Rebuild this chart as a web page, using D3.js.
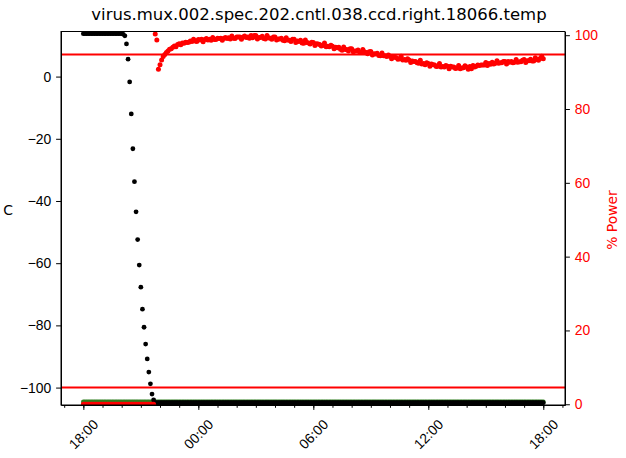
<!DOCTYPE html>
<html>
<head>
<meta charset="utf-8">
<script src="https://cdn.jsdelivr.net/npm/d3@7"></script>
<style>
  body { margin: 0; background: #fff; }
  svg { font-family: "DejaVu Sans", sans-serif; }
</style>
</head>
<body>
<script>
// Chart data: minutes after the 18:00 start, and readings
var chartTitle = "virus.mux.002.spec.202.cntl.038.ccd.right.18066.temp";

// sample times, minutes after 18:00 (5 minute logging)
var earlyMinutes = [0, 5, 10, 15, 20, 25, 30, 35, 40, 45, 50, 55,
  60, 65, 70, 75, 80, 85, 90, 95, 100, 105, 110, 115,
  120, 125, 130, 135, 140, 145, 150, 155, 160, 165, 170, 175,
  180, 185, 190, 195, 200, 205, 210, 215, 220];
var lateMinutes = [225, 230, 235, 240, 245, 250, 255, 260, 265, 270, 275, 280,
  285, 290, 295, 300, 305, 310, 315, 320, 325, 330, 335, 340,
  345, 350, 355, 360, 365, 370, 375, 380, 385, 390, 395, 400,
  405, 410, 415, 420, 425, 430, 435, 440, 445, 450, 455, 460,
  465, 470, 475, 480, 485, 490, 495, 500, 505, 510, 515, 520,
  525, 530, 535, 540, 545, 550, 555, 560, 565, 570, 575, 580,
  585, 590, 595, 600, 605, 610, 615, 620, 625, 630, 635, 640,
  645, 650, 655, 660, 665, 670, 675, 680, 685, 690, 695, 700,
  705, 710, 715, 720, 725, 730, 735, 740, 745, 750, 755, 760,
  765, 770, 775, 780, 785, 790, 795, 800, 805, 810, 815, 820,
  825, 830, 835, 840, 845, 850, 855, 860, 865, 870, 875, 880,
  885, 890, 895, 900, 905, 910, 915, 920, 925, 930, 935, 940,
  945, 950, 955, 960, 965, 970, 975, 980, 985, 990, 995, 1000,
  1005, 1010, 1015, 1020, 1025, 1030, 1035, 1040, 1045, 1050, 1055, 1060,
  1065, 1070, 1075, 1080, 1085, 1090, 1095, 1100, 1105, 1110, 1115, 1120,
  1125, 1130, 1135, 1140, 1145, 1150, 1155, 1160, 1165, 1170, 1175, 1180,
  1185, 1190, 1195, 1200, 1205, 1210, 1215, 1220, 1225, 1230, 1235, 1240,
  1245, 1250, 1255, 1260, 1265, 1270, 1275, 1280, 1285, 1290, 1295, 1300,
  1305, 1310, 1315, 1320, 1325, 1330, 1335, 1340, 1345, 1350, 1355, 1360,
  1365, 1370, 1375, 1380, 1385, 1390, 1395, 1400, 1405, 1410, 1415, 1420,
  1425, 1430, 1435, 1440];

// CCD temperature (C)
var tempEarly = [13.8, 13.8, 13.8, 13.8, 13.8, 13.8, 13.8, 13.8, 13.8, 13.8, 13.8, 13.8,
  13.8, 13.8, 13.8, 13.8, 13.8, 13.8, 13.8, 13.8, 13.8, 13.8, 13.8, 13.8,
  13.8, 13.6, 13.1, 10.5, 5.6, -1.7, -12.0, -23.2, -33.8, -43.5, -52.4, -60.6,
  -67.7, -74.8, -80.6, -86.0, -90.8, -95.0, -98.8, -102.1, -104.0];
var tempLate = [-104.85, -104.85, -104.85, -104.85, -104.85, -104.85, -104.85, -104.85, -104.85, -104.85, -104.85, -104.85,
  -104.85, -104.85, -104.85, -104.85, -104.85, -104.85, -104.85, -104.85, -104.85, -104.85, -104.85, -104.85,
  -104.85, -104.85, -104.85, -104.85, -104.85, -104.85, -104.85, -104.85, -104.85, -104.85, -104.85, -104.85,
  -104.85, -104.85, -104.85, -104.85, -104.85, -104.85, -104.85, -104.85, -104.85, -104.85, -104.85, -104.85,
  -104.85, -104.85, -104.85, -104.85, -104.85, -104.85, -104.85, -104.85, -104.85, -104.85, -104.85, -104.85,
  -104.85, -104.85, -104.85, -104.85, -104.85, -104.85, -104.85, -104.85, -104.85, -104.85, -104.85, -104.85,
  -104.85, -104.85, -104.85, -104.85, -104.85, -104.85, -104.85, -104.85, -104.85, -104.85, -104.85, -104.85,
  -104.85, -104.85, -104.85, -104.85, -104.85, -104.85, -104.85, -104.85, -104.85, -104.85, -104.85, -104.85,
  -104.85, -104.85, -104.85, -104.85, -104.85, -104.85, -104.85, -104.85, -104.85, -104.85, -104.85, -104.85,
  -104.85, -104.85, -104.85, -104.85, -104.85, -104.85, -104.85, -104.85, -104.85, -104.85, -104.85, -104.85,
  -104.85, -104.85, -104.85, -104.85, -104.85, -104.85, -104.85, -104.85, -104.85, -104.85, -104.85, -104.85,
  -104.85, -104.85, -104.85, -104.85, -104.85, -104.85, -104.85, -104.85, -104.85, -104.85, -104.85, -104.85,
  -104.85, -104.85, -104.85, -104.85, -104.85, -104.85, -104.85, -104.85, -104.85, -104.85, -104.85, -104.85,
  -104.85, -104.85, -104.85, -104.85, -104.85, -104.85, -104.85, -104.85, -104.85, -104.85, -104.85, -104.85,
  -104.85, -104.85, -104.85, -104.85, -104.85, -104.85, -104.85, -104.85, -104.85, -104.85, -104.85, -104.85,
  -104.85, -104.85, -104.85, -104.85, -104.85, -104.85, -104.85, -104.85, -104.85, -104.85, -104.85, -104.85,
  -104.85, -104.85, -104.85, -104.85, -104.85, -104.85, -104.85, -104.85, -104.85, -104.85, -104.85, -104.85,
  -104.85, -104.85, -104.85, -104.85, -104.85, -104.85, -104.85, -104.85, -104.85, -104.85, -104.85, -104.85,
  -104.85, -104.85, -104.85, -104.85, -104.85, -104.85, -104.85, -104.85, -104.85, -104.85, -104.85, -104.85,
  -104.85, -104.85, -104.85, -104.85, -104.85, -104.85, -104.85, -104.85, -104.85, -104.85, -104.85, -104.85,
  -104.85, -104.85, -104.85, -104.85];

// set point (C), green
var setEarly = [-104.6, -104.6, -104.6, -104.6, -104.6, -104.6, -104.6, -104.6, -104.6, -104.6, -104.6, -104.6,
  -104.6, -104.6, -104.6, -104.6, -104.6, -104.6, -104.6, -104.6, -104.6, -104.6, -104.6, -104.6,
  -104.6, -104.6, -104.6, -104.6, -104.6, -104.6, -104.6, -104.6, -104.6, -104.6, -104.6, -104.6,
  -104.6, -104.6, -104.6, -104.6, -104.6, -104.6, -104.6, -104.6, -104.6];
var setLate = [-104.6, -104.6, -104.6, -104.6, -104.6, -104.6, -104.6, -104.6, -104.6, -104.6, -104.6, -104.6,
  -104.6, -104.6, -104.6, -104.6, -104.6, -104.6, -104.6, -104.6, -104.6, -104.6, -104.6, -104.6,
  -104.6, -104.6, -104.6, -104.6, -104.6, -104.6, -104.6, -104.6, -104.6, -104.6, -104.6, -104.6,
  -104.6, -104.6, -104.6, -104.6, -104.6, -104.6, -104.6, -104.6, -104.6, -104.6, -104.6, -104.6,
  -104.6, -104.6, -104.6, -104.6, -104.6, -104.6, -104.6, -104.6, -104.6, -104.6, -104.6, -104.6,
  -104.6, -104.6, -104.6, -104.6, -104.6, -104.6, -104.6, -104.6, -104.6, -104.6, -104.6, -104.6,
  -104.6, -104.6, -104.6, -104.6, -104.6, -104.6, -104.6, -104.6, -104.6, -104.6, -104.6, -104.6,
  -104.6, -104.6, -104.6, -104.6, -104.6, -104.6, -104.6, -104.6, -104.6, -104.6, -104.6, -104.6,
  -104.6, -104.6, -104.6, -104.6, -104.6, -104.6, -104.6, -104.6, -104.6, -104.6, -104.6, -104.6,
  -104.6, -104.6, -104.6, -104.6, -104.6, -104.6, -104.6, -104.6, -104.6, -104.6, -104.6, -104.6,
  -104.6, -104.6, -104.6, -104.6, -104.6, -104.6, -104.6, -104.6, -104.6, -104.6, -104.6, -104.6,
  -104.6, -104.6, -104.6, -104.6, -104.6, -104.6, -104.6, -104.6, -104.6, -104.6, -104.6, -104.6,
  -104.6, -104.6, -104.6, -104.6, -104.6, -104.6, -104.6, -104.6, -104.6, -104.6, -104.6, -104.6,
  -104.6, -104.6, -104.6, -104.6, -104.6, -104.6, -104.6, -104.6, -104.6, -104.6, -104.6, -104.6,
  -104.6, -104.6, -104.6, -104.6, -104.6, -104.6, -104.6, -104.6, -104.6, -104.6, -104.6, -104.6,
  -104.6, -104.6, -104.6, -104.6, -104.6, -104.6, -104.6, -104.6, -104.6, -104.6, -104.6, -104.6,
  -104.6, -104.6, -104.6, -104.6, -104.6, -104.6, -104.6, -104.6, -104.6, -104.6, -104.6, -104.6,
  -104.6, -104.6, -104.6, -104.6, -104.6, -104.6, -104.6, -104.6, -104.6, -104.6, -104.6, -104.6,
  -104.6, -104.6, -104.6, -104.6, -104.6, -104.6, -104.6, -104.6, -104.6, -104.6, -104.6, -104.6,
  -104.6, -104.6, -104.6, -104.6, -104.6, -104.6, -104.6, -104.6, -104.6, -104.6, -104.6, -104.6,
  -104.6, -104.6, -104.6, -104.6];

// heater power (%)
var powerEarly = [0, 0, 0, 0, 0, 0, 0, 0, 0, 0, 0, 0,
  0, 0, 0, 0, 0, 0, 0, 0, 0, 0, 0, 0,
  0, 0, 0, 0, 0, 0, 0, 0, 0, 0, 0, 0,
  0, 0, 0, 0, 0, 0, 0, 0, 0];
var powerLate = [100.3, 98.7, 90.8, 92.0, 93.3, 94.2, 94.8, 95.3, 95.7, 96.2, 96.3, 96.7,
  97.1, 96.9, 97.5, 97.7, 97.4, 97.9, 97.8, 98.1, 98.0, 98.1, 98.4, 98.3,
  98.9, 98.4, 98.3, 98.8, 98.7, 98.9, 98.2, 98.8, 99.1, 98.7, 98.9, 98.6,
  99.4, 98.8, 98.8, 99.2, 99.1, 99.2, 98.6, 99.2, 99.4, 99.1, 99.3, 99.0,
  99.8, 99.2, 99.1, 99.5, 99.5, 99.5, 98.9, 99.5, 99.8, 99.4, 99.5, 99.2,
  99.9, 99.3, 99.9, 99.9, 99.0, 99.4, 99.4, 99.7, 99.1, 99.0, 99.9, 99.3,
  99.2, 98.9, 99.5, 99.5, 98.7, 99.0, 99.0, 99.2, 98.6, 98.5, 99.3, 98.7,
  98.6, 98.3, 98.9, 98.9, 98.0, 98.4, 98.3, 98.6, 97.9, 97.8, 98.7, 98.0,
  97.9, 97.6, 98.1, 98.0, 97.2, 97.7, 97.6, 97.5, 97.1, 97.2, 97.9, 96.9,
  97.0, 96.9, 97.3, 97.0, 96.3, 96.7, 96.6, 96.7, 96.2, 95.9, 96.8, 96.1,
  96.1, 95.7, 96.3, 96.3, 95.5, 95.7, 95.7, 96.0, 95.4, 95.3, 96.1, 95.5,
  95.3, 95.0, 95.5, 95.6, 94.6, 95.0, 94.9, 95.1, 94.5, 94.4, 95.2, 94.4,
  94.4, 94.2, 94.6, 94.3, 93.6, 94.2, 94.0, 93.9, 93.5, 93.6, 94.3, 93.3,
  93.4, 93.2, 93.6, 93.3, 92.6, 93.0, 92.9, 92.9, 92.5, 92.4, 93.2, 92.2,
  92.3, 92.0, 92.5, 92.3, 91.6, 92.2, 92.0, 91.9, 91.5, 91.6, 92.3, 91.4,
  91.5, 91.4, 91.8, 91.6, 90.9, 91.6, 91.4, 91.4, 91.0, 91.1, 91.8, 90.9,
  91.1, 91.2, 91.7, 91.4, 90.8, 91.5, 90.9, 91.8, 91.4, 91.6, 91.9, 91.8,
  91.9, 91.9, 91.9, 92.6, 91.8, 92.3, 92.1, 92.7, 92.2, 92.4, 93.1, 92.4,
  92.5, 92.5, 92.9, 92.9, 92.2, 92.9, 92.7, 92.9, 92.5, 92.7, 93.4, 92.7,
  92.8, 92.8, 93.2, 93.4, 92.6, 93.1, 93.1, 93.5, 93.0, 93.0, 93.9, 93.4,
  93.2, 93.7, 94.3, 93.6];

var tempLimits = [7.1, -100];
var tempTicks = [-100, -80, -60, -40, -20, 0];
var powerTicks = [0, 20, 40, 60, 80, 100];
var xTickHours = [0, 6, 12, 18, 24];
var xMinorHours = [-1, 0, 1, 2, 3, 4, 5, 6, 7, 8, 9, 10, 11, 12, 13, 14, 15, 16, 17, 18, 19, 20, 21, 22, 23, 24, 25];

var W = 626, H = 458;
var margin = {top: 31.5, right: 61, bottom: 53, left: 61},
    width = W - margin.left - margin.right,
    height = H - margin.top - margin.bottom;

var start = new Date(2000, 0, 1, 18, 0);
function at(min) { return new Date(start.getTime() + min * 60000); }

var svg = d3.select("body").append("svg")
    .attr("width", W)
    .attr("height", H);

var g = svg.append("g")
    .attr("transform", "translate(" + margin.left + "," + margin.top + ")");

// Scales
var x = d3.scaleTime().domain([at(-70), at(1508)]).range([0, width]);
var yT = d3.scaleLinear().domain([-105.6, 14.5]).range([height, 0]);
var yP = d3.scaleLinear().domain([-0.2, 101.0]).range([height, 0]);

g.append("clipPath").attr("id", "plotclip")
  .append("rect").attr("width", width).attr("height", height);

var plot = g.append("g").attr("clip-path", "url(#plotclip)");

function dots(mins, vals, y, color, r) {
  plot.append("g").selectAll("circle")
    .data(mins.map(function(m, i) { return {t: at(m), v: vals[i]}; }))
    .enter().append("circle")
    .attr("cx", function(d) { return x(d.t); })
    .attr("cy", function(d) { return y(d.v); })
    .attr("r", r)
    .style("fill", color);
}

var allMinutes = earlyMinutes.concat(lateMinutes);
dots(allMinutes, setEarly.concat(setLate), yT, "#2e7d1e", 2.4);
dots(allMinutes, tempEarly.concat(tempLate), yT, "#000", 2.4);
dots(allMinutes, powerEarly.concat(powerLate), yP, "#ff0000", 2.5);

// limit lines
plot.selectAll("line.limit")
  .data(tempLimits)
  .enter().append("line")
  .attr("class", "limit")
  .attr("x1", 0).attr("x2", width)
  .attr("y1", function(d) { return yT(d); })
  .attr("y2", function(d) { return yT(d); })
  .style("stroke", "#ff0000")
  .style("stroke-width", 2);

// Axes
var xAxis = g.append("g")
  .attr("transform", "translate(0," + height + ")")
  .call(d3.axisBottom(x)
    .tickValues(xTickHours.map(function(h) { return at(h * 60); }))
    .tickFormat(d3.timeFormat("%H:%M"))
    .tickSizeInner(4.9).tickSizeOuter(0).tickPadding(4.9));

xAxis.selectAll("text")
  .style("font-size", "13.9px")
  .attr("text-anchor", "middle")
  .attr("y", 0).attr("dy", "0.32em")
  .attr("transform", "translate(0,29.5) rotate(-45)");

g.append("g")
  .attr("transform", "translate(0," + height + ")")
  .call(d3.axisBottom(x)
    .tickValues(xMinorHours.map(function(h) { return at(h * 60); }))
    .tickFormat("").tickSizeInner(2.8).tickSizeOuter(0))
  .select(".domain").remove();

g.append("g")
  .call(d3.axisLeft(yT).tickValues(tempTicks)
    .tickFormat(function(d) { return d < 0 ? "\u2212" + Math.abs(d) : d; })
    .tickSizeInner(4.9).tickSizeOuter(0).tickPadding(4.9))
  .selectAll("text").style("font-size", "13.9px");

var rightAxis = g.append("g")
  .attr("transform", "translate(" + width + ",0)")
  .call(d3.axisRight(yP).tickValues(powerTicks)
    .tickSizeInner(4.9).tickSizeOuter(0).tickPadding(4.9));
rightAxis.selectAll("text").style("font-size", "13.9px").style("fill", "#ff0000");

g.selectAll(".domain").style("stroke", "#000");

// Frame
g.append("rect")
  .attr("width", width).attr("height", height)
  .style("fill", "none").style("stroke", "#000").style("stroke-width", 1);

// Title and labels
svg.append("text")
  .attr("x", 319)
  .attr("y", 20)
  .attr("text-anchor", "middle")
  .style("font-size", "16.5px")
  .text(chartTitle);

svg.append("text")
  .attr("x", 8)
  .attr("y", 215)
  .attr("text-anchor", "middle")
  .style("font-size", "13.9px")
  .text("C");

svg.append("text")
  .attr("transform", "translate(616.5,220) rotate(-90)")
  .attr("text-anchor", "middle")
  .style("font-size", "13.9px")
  .style("fill", "#ff0000")
  .text("% Power");
</script>
</body>
</html>
